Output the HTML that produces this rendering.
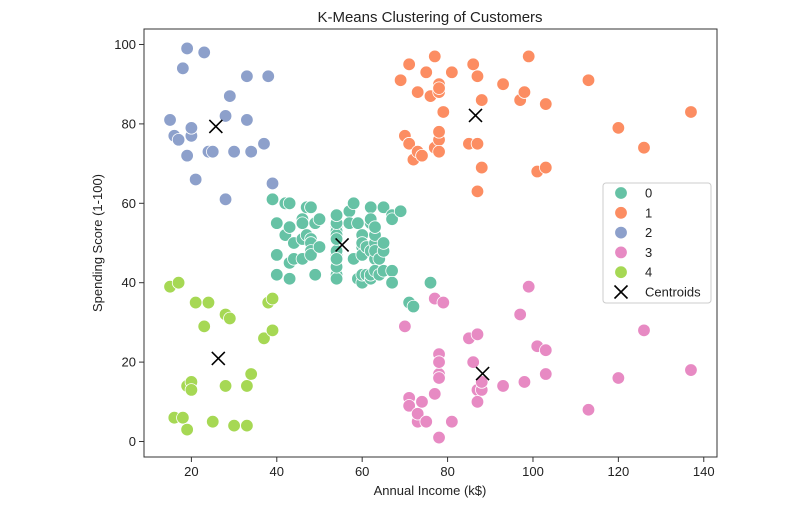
<!DOCTYPE html>
<html><head><meta charset="utf-8"><style>
body{margin:0;background:#fff;}
svg text{font-family:"Liberation Sans","DejaVu Sans",sans-serif;fill:#222;}
</style></head><body>
<svg id="chart" width="800" height="500" xmlns="http://www.w3.org/2000/svg">
<text x="430" y="22" font-size="15" text-anchor="middle">K-Means Clustering of Customers</text>
<g id="grid"></g>
<g id="points"></g>
<g id="cents"></g>
<rect x="144" y="29" width="573" height="428" fill="none" stroke="#333" stroke-width="1"/>
<g id="axes"></g>
<text x="430" y="495" font-size="13" text-anchor="middle">Annual Income (k$)</text>
<text transform="translate(102,243) rotate(-90)" font-size="13" text-anchor="middle">Spending Score (1-100)</text>
<g id="legend"></g>
</svg>
<script>
const income=[15,15,16,16,17,17,18,18,19,19,19,19,20,20,20,20,21,21,23,23,24,24,25,25,28,28,28,28,29,29,30,30,33,33,33,33,34,34,37,37,38,38,39,39,39,39,40,40,40,40,42,42,43,43,43,43,44,44,46,46,46,46,47,47,48,48,48,48,48,48,49,49,50,50,54,54,54,54,54,54,54,54,54,54,54,54,57,57,58,58,59,59,60,60,60,60,60,60,61,61,62,62,62,62,62,62,63,63,63,63,63,63,64,64,65,65,65,65,67,67,67,67,69,69,70,70,71,71,71,71,71,71,72,72,73,73,73,73,74,74,75,75,76,76,77,77,77,77,78,78,78,78,78,78,78,78,78,78,78,78,79,79,81,81,85,85,86,86,87,87,87,87,87,87,88,88,88,88,93,93,97,97,98,98,99,99,101,101,103,103,103,103,113,113,120,120,126,126,137,137];
const score=[39,81,6,77,40,76,6,94,3,72,14,99,15,77,13,79,35,66,29,98,35,73,5,73,14,82,32,61,31,87,4,73,4,92,14,81,17,73,26,75,35,92,36,61,28,65,55,47,42,42,52,60,54,60,45,41,50,46,51,46,56,55,52,59,51,59,50,48,59,47,55,42,49,56,47,54,53,48,52,42,51,55,41,44,57,46,58,55,60,46,55,41,49,40,42,52,47,50,42,49,41,48,59,55,56,42,50,46,43,48,52,54,42,46,48,50,43,59,43,57,56,40,58,91,29,77,35,95,11,75,9,75,34,71,5,88,7,73,10,72,5,93,40,87,12,97,36,74,22,90,17,88,20,76,16,89,1,78,1,73,35,83,5,93,26,75,20,95,27,63,13,75,10,92,13,86,15,69,14,90,32,86,15,88,39,97,24,68,17,85,23,69,8,91,16,79,28,74,18,83];
const labels=("4242424242424242424242424242424242424242424"+"042"+"0000000000000000000000000000000000000000000000000000000000000000000000000000"+"0"+"1310131310131313131"+"01"+"31313131313131313131313131313131313131313131313131313131").split("").map(Number);
const clusters=["0","1","2","3","4"];
const xTicks=[20,40,60,80,100,120,140];
const yTicks=[0,20,40,60,80,100];
const colors=["#66c2a5","#fc8d62","#8da0cb","#e78ac3","#a6d854"];
const NS="http://www.w3.org/2000/svg";
const X0=144,X1=717,Y0=457,Y1=29,xmin=8.9,xmax=143.1,ymin=-3.9,ymax=103.9;
const xs=v=>X0+(v-xmin)/(xmax-xmin)*(X1-X0);
const ys=v=>Y0-(v-ymin)/(ymax-ymin)*(Y0-Y1);
function mk(tag,attrs,parent){const e=document.createElementNS(NS,tag);for(const k in attrs)e.setAttribute(k,attrs[k]);parent.appendChild(e);return e;}
const P=document.getElementById('points');
income.forEach((v,i)=>{
  const c=mk('circle',{cx:xs(v),cy:ys(score[i]),r:6.3,fill:colors[labels[i]],stroke:'#fff','stroke-width':0.8},P);
  
  
});
const C=document.getElementById('cents');
function cross(cx,cy,g,s){
  mk('line',{x1:cx-s,y1:cy-s,x2:cx+s,y2:cy+s,stroke:'#000','stroke-width':1.6},g);
  mk('line',{x1:cx-s,y1:cy+s,x2:cx+s,y2:cy-s,stroke:'#000','stroke-width':1.6},g);
}
clusters.forEach((k,ci)=>{
  let sx=0,sy=0,n=0;
  labels.forEach((l,i)=>{if(l===ci){sx+=income[i];sy+=score[i];n++;}});
  if(!n)return;
  const g=mk('g',{},C);
  
  
  cross(xs(sx/n),ys(sy/n),g,6.5);
});
const A=document.getElementById('axes');
xTicks.forEach(t=>{
  const x=xs(t);
  mk('line',{x1:x,y1:Y0,x2:x,y2:Y0+5,stroke:'#333'},A);
  const tx=mk('text',{x:x,y:Y0+19,'font-size':13,'text-anchor':'middle'},A);
  tx.textContent=t;
  
  
});
yTicks.forEach(t=>{
  const y=ys(t);
  mk('line',{x1:X0-5,y1:y,x2:X0,y2:y,stroke:'#333'},A);
  const tx=mk('text',{x:X0-8,y:y+4.5,'font-size':13,'text-anchor':'end'},A);
  tx.textContent=t;
  
  
});
const L=document.getElementById('legend');
mk('rect',{x:603,y:183,width:108,height:120,rx:3,fill:'#fff','fill-opacity':0.8,stroke:'#ccc'},L);
clusters.forEach((k,i)=>{
  const y=193+i*19.8;
  const g=mk('g',{},L);
  
  
  mk('circle',{cx:621,cy:y,r:6.3,fill:colors[i],stroke:'#fff','stroke-width':0.8},g);
  const t=mk('text',{x:645,y:y+4.5,'font-size':13},g);t.textContent=k;
});
const lg=mk('g',{},L);


cross(621,292,lg,6.5);
const lt=mk('text',{x:645,y:296.5,'font-size':13},lg);lt.textContent='Centroids';
</script>
</body></html>
